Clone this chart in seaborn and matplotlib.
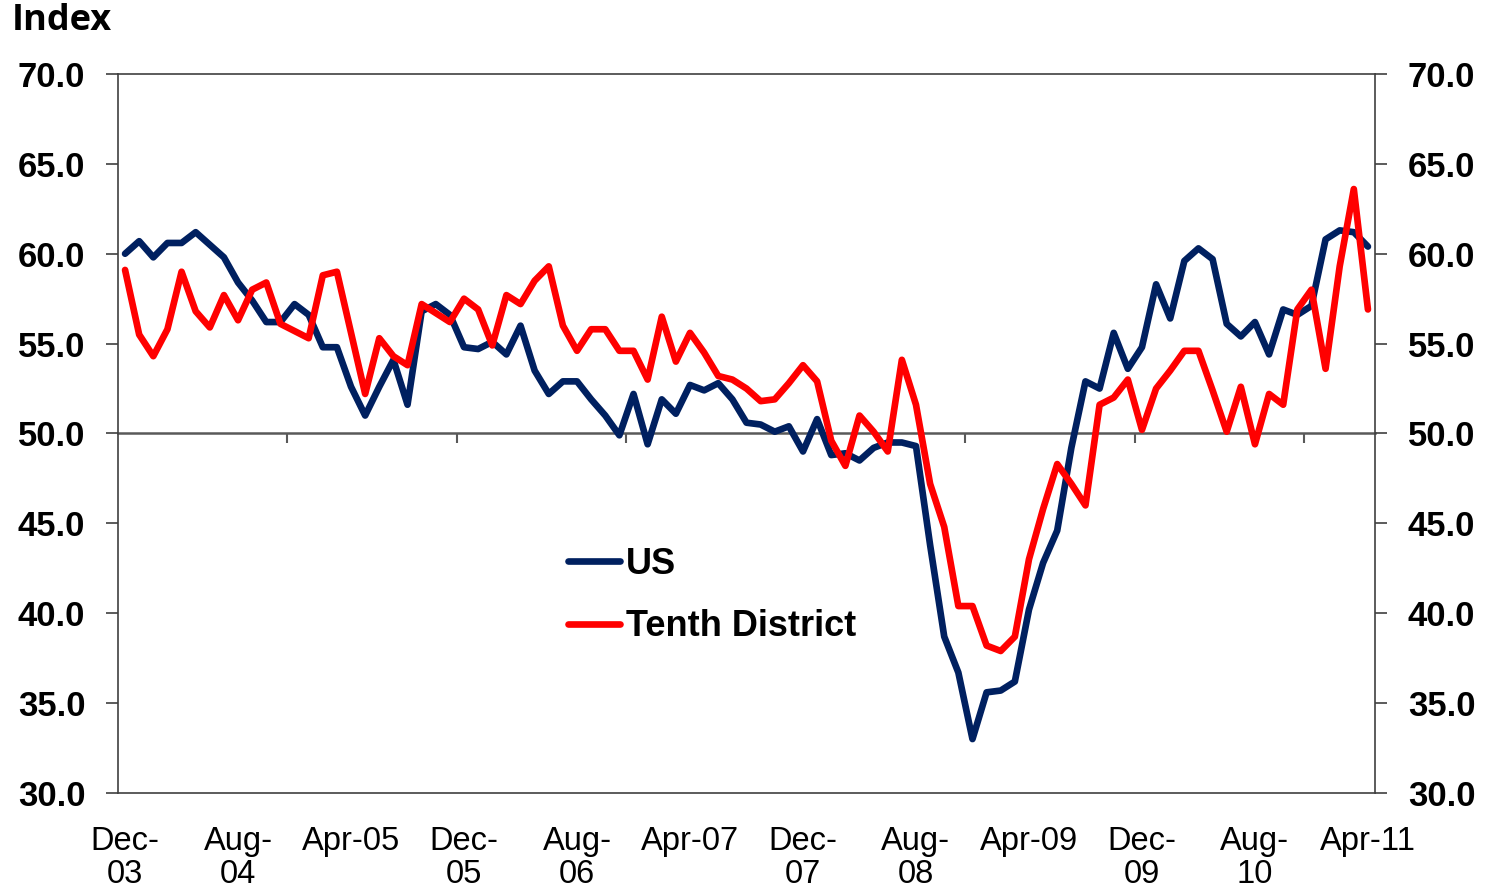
import numpy as np
import pandas as pd
import matplotlib
matplotlib.use("Agg")
import matplotlib.pyplot as plt
import seaborn as sns

# monthly index, Dec-03 .. Apr-11
tick_labels = ["Dec-\n03", "Aug-\n04", "Apr-05", "Dec-\n05", "Aug-\n06", "Apr-07",
               "Dec-\n07", "Aug-\n08", "Apr-09", "Dec-\n09", "Aug-\n10", "Apr-11"]

us_index = [
    60.0, 60.7, 59.8, 60.6, 60.6, 61.2, 60.5, 59.8, 58.4, 57.4,
    56.2, 56.2, 57.2, 56.6, 54.8, 54.8, 52.6, 51.0, 52.6, 54.1,
    51.6, 56.8, 57.2, 56.6, 54.8, 54.7, 55.1, 54.4, 56.0, 53.5,
    52.2, 52.9, 52.9, 51.9, 51.0, 49.9, 52.2, 49.4, 51.9, 51.1,
    52.7, 52.4, 52.8, 51.9, 50.6, 50.5, 50.1, 50.4, 49.0, 50.8,
    48.8, 48.9, 48.5, 49.2, 49.5, 49.5, 49.3, 43.8, 38.7, 36.7,
    33.0, 35.6, 35.7, 36.2, 40.2, 42.8, 44.6, 49.2, 52.9, 52.5,
    55.6, 53.6, 54.8, 58.3, 56.4, 59.6, 60.3, 59.7, 56.1, 55.4,
    56.2, 54.4, 56.9, 56.6, 57.1, 60.8, 61.3, 61.2, 60.4,
]

tenth_index = [
    59.1, 55.5, 54.3, 55.8, 59.0, 56.8, 55.9, 57.7, 56.3, 58.0,
    58.4, 56.1, 55.7, 55.3, 58.8, 59.0, 55.6, 52.2, 55.3, 54.3,
    53.8, 57.2, 56.7, 56.2, 57.5, 56.9, 54.9, 57.7, 57.2, 58.5,
    59.3, 56.0, 54.6, 55.8, 55.8, 54.6, 54.6, 53.0, 56.5, 54.0,
    55.6, 54.5, 53.2, 53.0, 52.5, 51.8, 51.9, 52.8, 53.8, 52.9,
    49.6, 48.2, 51.0, 50.1, 49.0, 54.1, 51.6, 47.2, 44.8, 40.4,
    40.4, 38.2, 37.9, 38.7, 43.0, 45.8, 48.3, 47.2, 46.0, 51.6,
    52.0, 53.0, 50.2, 52.5, 53.5, 54.6, 54.6, 52.4, 50.1, 52.6,
    49.4, 52.2, 51.6, 56.9, 58.0, 53.6, 59.3, 63.6, 56.9,
]

navy = "#002060"
red = "#FF0000"
axis_col = "#404040"

sns.set_style("white")
plt.rcParams['font.family'] = ['Liberation Sans', 'DejaVu Sans']

df = pd.DataFrame({
    "pos": np.arange(len(us_index)),
    "US": us_index,
    "Tenth District": tenth_index,
}).melt(id_vars="pos", var_name="series", value_name="value")

fig, ax = plt.subplots(figsize=(14.89, 8.91), dpi=100)
fig.subplots_adjust(left=118/1489, right=1375/1489, top=1-74/891, bottom=1-793/891)

sns.lineplot(data=df, x="pos", y="value", hue="series",
             palette={"US": navy, "Tenth District": red},
             linewidth=4.8, solid_joinstyle="round", solid_capstyle="round", ax=ax)

ax.set_xlim(-0.5, len(us_index) - 0.5)
ax.set_ylim(30, 70)
yt = np.arange(30, 70.1, 5)
ax.set_yticks(yt, [f"{v:.1f}" for v in yt], fontweight="bold")
ax.set_xticks(np.arange(0, len(us_index), 8), tick_labels, fontsize=23.5)
for lbl in ax.get_xticklabels():
    lbl.set_linespacing(1.05)
ax.set_xlabel("")
ax.set_ylabel("")

ax.tick_params(axis="y", left=True, right=True, labelleft=True, labelright=True,
               direction="out", length=8.6, width=1.2, color=axis_col,
               pad=15, labelsize=25, labelcolor="black")
ax.tick_params(axis="x", length=0, pad=24, labelcolor="black")
for s in ax.spines.values():
    s.set_color(axis_col)
    s.set_linewidth(1.2)

# category axis crossing at 50, ticks every 12 months
sec = ax.secondary_xaxis(0.5)
sec.set_alignment("bottom")
sec.set_xticks(np.arange(11.5, len(us_index), 12))
sec.tick_params(axis="x", direction="out", length=7, width=1.5, color="#595959",
                labelbottom=False, labeltop=False)
sec.spines["bottom"].set_color("#595959")
sec.spines["bottom"].set_linewidth(1.8)

handles, labels = ax.get_legend_handles_labels()
ax.legend(handles, labels, loc="upper left", bbox_to_anchor=(0.358, 0.342),
          frameon=False, prop={"weight": "bold", "size": 26}, labelcolor="black",
          handlelength=1.45, handletextpad=0.15, labelspacing=0.75,
          borderpad=0, borderaxespad=0)

fig.text(12/1489, 1 - 3/891, "Index", fontsize=26, fontweight="bold", color="black",
         family=["Open Sans", "DejaVu Sans"], va="top", ha="left")

fig.savefig("out.png", dpi=100)
